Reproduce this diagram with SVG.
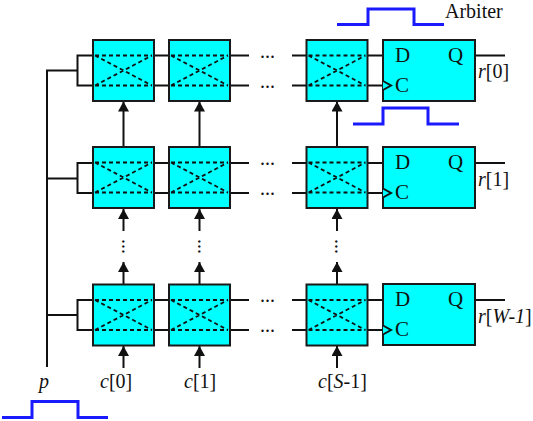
<svg xmlns="http://www.w3.org/2000/svg" width="533" height="421" viewBox="0 0 533 421">
<style>
.b{fill:#00ffff;stroke:#1a1a1a;stroke-width:2}
.w{fill:none;stroke:#111;stroke-width:2}
.d{fill:none;stroke:#111;stroke-width:1.8;stroke-dasharray:4 3}
.p{fill:none;stroke:#1a1aff;stroke-width:3}
.t{font-family:"Liberation Serif",serif;font-size:20px;fill:#111}
.k{font-size:21px}
.i{font-style:italic}
.l{font-size:20px}
</style>
<defs>
<marker id="a" markerUnits="userSpaceOnUse" markerWidth="11" markerHeight="11" refX="10" refY="5.500" orient="auto"><path d="M0 0L10 5.500L0 11Z" fill="#111" stroke="none"/></marker>
<g id="x"><rect class="b" x="0" y="0" width="61" height="61"/><path class="d" d="M2 15.500H59M2 45.500H59M2 15.500L59 45.500M2 45.500L59 15.500"/></g>
</defs>
<g id="connectors">
<path class="w" d="M47 367V70.500H77.500M47 178.500H77.500M47 315H77.500"/>
<path class="w" d="M93 55.500H77.500V85.500H93M93 163H77.500V193H93M93 300H77.500V330H93"/>
<path class="w" d="M154 55.500H169M154 85.500H169M154 163H169M154 193H169M154 300H169M154 330H169"/>
<path class="w" d="M230 55.500H249M230 85.500H249M230 163H249M230 193H249M230 300H249M230 330H249"/>
<path class="w" d="M292 55.500H306.500M292 85.500H306.500M292 163H306.500M292 193H306.500M292 300H306.500M292 330H306.500"/>
<path class="w" d="M367.500 55.500H383M367.500 163H383M367.500 300H383"/>
<path class="w" d="M367.500 85.500H383M367.500 193H383M367.500 330H383"/>
<path class="w" d="M475 55.500H505M475 163H505M475 300H505"/>
<g marker-end="url(#a)" class="w">
<path d="M123.500 147V101.500"/><path d="M199.500 147V101.500"/><path d="M337 147V101.500"/>
<path d="M123.500 231V209"/><path d="M199.500 231V209"/><path d="M337 231V209"/>
<path d="M123.500 285V262"/><path d="M199.500 285V262"/><path d="M337 285V262"/>
<path d="M123.500 368V346"/><path d="M199.500 368V346"/><path d="M337 368V346"/>
</g>
</g>
<g id="s00"><use href="#x" x="93" y="40"/></g>
<g id="s01"><use href="#x" x="169" y="40"/></g>
<g id="s02"><use href="#x" x="306.500" y="40"/></g>
<g id="s10"><use href="#x" x="93" y="147"/></g>
<g id="s11"><use href="#x" x="169" y="147"/></g>
<g id="s12"><use href="#x" x="306.500" y="147"/></g>
<g id="s20"><use href="#x" x="93" y="284.500"/></g>
<g id="s21"><use href="#x" x="169" y="284.500"/></g>
<g id="s22"><use href="#x" x="306.500" y="284.500"/></g>
<g id="ff0"><rect class="b" x="383" y="40" width="92" height="61"/><path class="w" d="M383 81L391 85.500L383 90" style="fill:#00ffff"/><text class="t k" x="395" y="62">D</text><text class="t k" x="395" y="92">C</text><text class="t k" x="448" y="62">Q</text></g>
<g id="ff1"><rect class="b" x="383" y="147" width="92" height="61"/><path class="w" d="M383 188.500L391 193L383 197.500" style="fill:#00ffff"/><text class="t k" x="395" y="169">D</text><text class="t k" x="395" y="199">C</text><text class="t k" x="448" y="169">Q</text></g>
<g id="ff2"><rect class="b" x="383" y="284" width="92" height="61"/><path class="w" d="M383 325.500L391 330L383 334.500" style="fill:#00ffff"/><text class="t k" x="395" y="306">D</text><text class="t k" x="395" y="336">C</text><text class="t k" x="448" y="306">Q</text></g>
<g id="labels">
<g class="t">
<text x="260" y="58">...</text><text x="260" y="88">...</text><text x="260" y="165">...</text><text x="260" y="195">...</text><text x="260" y="302">...</text><text x="260" y="332">...</text>
<text transform="translate(121.500 239) rotate(90)">...</text><text transform="translate(197.500 239) rotate(90)">...</text><text transform="translate(335 239) rotate(90)">...</text>
</g>
<text class="t l" x="445" y="18">Arbiter</text>
<text class="t l" x="478" y="78"><tspan class="i">r</tspan>[0]</text>
<text class="t l" x="478" y="186"><tspan class="i">r</tspan>[1]</text>
<text class="t l" x="478" y="323"><tspan class="i">r</tspan>[<tspan class="i">W-1</tspan>]</text>
<text class="t l i" x="39" y="388">p</text>
<text class="t l" x="100" y="388"><tspan class="i">c</tspan>[0]</text>
<text class="t l" x="184" y="388"><tspan class="i">c</tspan>[1]</text>
<text class="t l" x="318" y="388"><tspan class="i">c</tspan>[<tspan class="i">S</tspan>-1]</text>
</g>
<g id="pulses">
<path class="p" d="M337 24.500H368V9H414V24.500H444"/>
<path class="p" d="M353 124H383V108H428V124H459"/>
<path class="p" d="M2 417.500H32V401.500H78V417.500H108"/>
</g>
</svg>
